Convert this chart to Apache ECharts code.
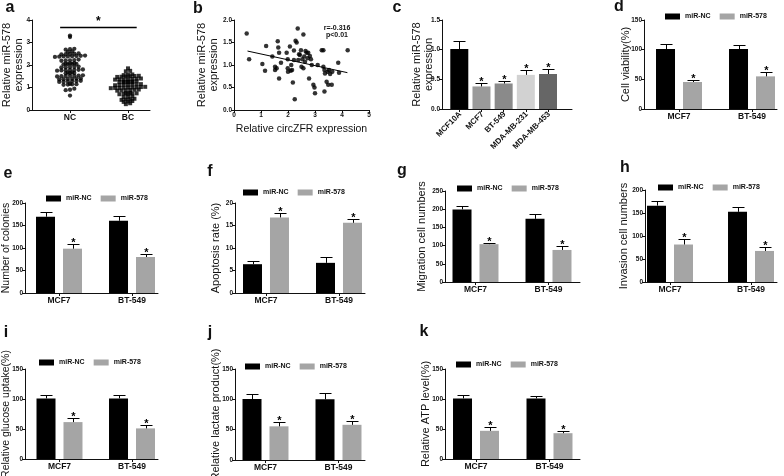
<!DOCTYPE html>
<html><head><meta charset="utf-8">
<script src="https://cdn.jsdelivr.net/npm/echarts@6/dist/echarts.min.js"></script>
<style>html,body{margin:0;padding:0;background:#fff}#c{width:784px;height:476px}</style>
</head><body><div id="c"></div>
<script>
// ================= DATA =================
// panel a: relative miR-578 expression, NC vs BC tissues
const tissueCats = ['NC', 'BC'];
const scatterNC = [3.31,3.24,2.72,2.70,2.68,2.60,2.58,2.50,2.48,2.47,2.52,2.49,
  2.40,2.38,2.41,2.37,2.39,2.36,2.42,2.38,2.22,2.20,2.24,2.21,2.19,
  2.06,2.04,2.08,2.05,2.03,2.07,2.05,1.90,1.92,1.89,1.91,1.93,
  1.78,1.76,1.79,1.77,1.75,1.80,1.78,1.64,1.66,1.63,1.65,1.67,
  1.52,1.50,1.53,1.51,1.49,1.54,1.52,1.38,1.40,1.37,1.39,1.36,1.41,
  1.28,1.26,1.29,1.27,1.30,1.25,1.15,1.13,1.16,1.14,1.12,0.95,0.90,0.88,0.64];
const scatterBC = [1.85,1.74,1.72,1.58,1.56,1.55,1.50,1.48,1.52,1.49,1.51,1.47,
  1.38,1.36,1.39,1.37,1.35,1.40,1.36,1.26,1.24,1.27,1.25,1.23,1.28,1.24,1.26,
  1.12,1.14,1.11,1.13,1.10,1.15,1.12,1.00,0.98,1.02,0.99,1.01,0.97,1.03,1.00,0.98,
  0.88,0.90,0.87,0.89,0.86,0.91,0.74,0.72,0.75,0.71,0.73,0.70,0.76,
  0.60,0.58,0.56,0.50,0.48,0.45,0.46,0.38,0.36,0.40,0.30,0.26];
// panel b: correlation circZFR vs miR-578
const corrX = [0.47,0.56,1.05,1.15,1.19,1.42,1.52,1.52,1.58,1.62,1.64,1.67,1.67,1.74,1.95,1.99,1.99,2.00,
  2.07,2.10,2.12,2.15,2.18,2.22,2.22,2.25,2.28,2.32,2.36,2.38,2.41,2.44,2.48,2.50,2.53,2.57,2.57,
  2.60,2.63,2.65,2.69,2.73,2.75,2.78,2.81,2.85,2.88,2.94,2.98,3.00,3.10,3.25,3.31,3.31,3.35,3.37,
  3.35,3.43,3.47,3.52,3.56,3.62,3.64,3.49,3.86,3.89,4.21];
const corrY = [1.70,1.13,1.02,0.87,1.42,1.19,0.96,0.89,0.93,1.53,1.39,1.27,0.70,1.05,1.27,1.13,0.93,0.85,
  1.41,0.87,1.00,0.89,0.61,1.32,1.11,0.24,1.54,1.50,1.81,1.11,1.24,1.22,1.33,0.96,1.13,1.68,0.93,
  1.19,1.07,1.31,1.27,1.15,1.27,0.70,1.20,1.13,1.00,0.56,0.50,0.37,1.00,1.33,1.33,0.96,0.89,0.81,
  0.41,0.63,0.85,0.89,0.80,0.56,0.85,0.56,1.05,0.83,1.33];
const fitLine = [[0.5, 1.31], [4.2, 0.83]];
const corrText = ['r=-0.316', 'p<0.01'];
// panel c: cell lines
const lineCats = ['MCF10A', 'MCF7', 'BT-549', 'MDA-MB-231', 'MDA-MB-453'];
const lineMean = [1.01, 0.38, 0.43, 0.575, 0.59];
const lineErr  = [0.13, 0.05, 0.04, 0.08, 0.08];
const lineSig  = [false, true, true, true, true];
// grouped bars d-k
const groups = ['MCF7', 'BT-549'];
const seriesNames = ['miR-NC', 'miR-578'];
const viabNC = [101, 101],   viabNCErr = [9, 7],     viab578 = [45.5, 55],  viab578Err = [4, 7.5];
const colNC  = [169.5, 160.5], colNCErr = [9.5, 10.5], col578 = [98.5, 80], col578Err = [10, 6];
const apoNC  = [6.4, 6.7],   apoNCErr = [0.8, 1.2],  apo578 = [16.8, 15.6], apo578Err = [1.0, 0.8];
const migNC  = [199.5, 173.5], migNCErr = [9, 14],   mig578 = [104, 88],   mig578Err = [4.5, 10];
const invNC  = [166, 152.5], invNCErr = [11, 11],    inv578 = [81.5, 67.5], inv578Err = [11, 9.5];
const gluNC  = [101, 101],   gluNCErr = [6.5, 6.5],  glu578 = [61.5, 51],  glu578Err = [7, 6];
const lacNC  = [100.5, 100], lacNCErr = [9, 11],     lac578 = [55.5, 58],  lac578Err = [7, 5.5];
const atpNC  = [101, 101],   atpNCErr = [5.5, 4.5],  atp578 = [47, 43],    atp578Err = [7, 3];

// ================= STYLE / LAYOUT =================
const FONT = '"Liberation Sans", Arial, Helvetica, sans-serif';
const INK = '#111';
const GRAY = '#a5a5a5';
const lineColors = ['#000000', '#9a9a9a', '#8a8a8a', '#d2d2d2', '#666666'];
const grids = [], xAxes = [], yAxes = [], series = [], legends = [], graphics = [];

function addGrid(l, r, t, b) {
  grids.push({left: l, top: t, width: r - l, height: b - t, containLabel: false, outerBoundsMode: 'none'});
  return grids.length - 1;
}
const axLine = {show: true, lineStyle: {color: INK, width: 1}};
const tickLbl = {fontSize: 6.5, fontWeight: 'bold', color: INK, fontFamily: FONT, margin: 2};
function yAxisCfg(g, max, interval, name, gap, fmt, nameSize) {
  return {gridIndex: g, type: 'value', min: 0, max: max, interval: interval,
    name: name, nameLocation: 'middle', nameRotate: 90, nameGap: gap, nameMoveOverlap: false,
    nameTextStyle: {fontSize: nameSize || 11, fontFamily: FONT, color: INK, lineHeight: 12},
    axisLine: axLine, axisTick: {show: true, length: 3, lineStyle: {color: INK}},
    axisLabel: Object.assign({}, tickLbl, fmt ? {formatter: fmt} : {}), splitLine: {show: false}};
}
function catXAxis(g, min, max, cats, lblOpts) {
  const vals = cats.map((c, i) => i + 1);
  return {gridIndex: g, type: 'value', min: min, max: max,
    axisLine: axLine, axisTick: {show: true, length: 3, customValues: vals, lineStyle: {color: INK}},
    axisLabel: Object.assign({customValues: vals, formatter: v => cats[Math.round(v) - 1] || '',
      fontSize: 8.5, fontWeight: 'bold', color: INK, fontFamily: FONT, margin: 3}, lblOpts || {}),
    splitLine: {show: false}};
}
function errSeries(g, means, errs, offset, stars) {
  return {type: 'custom', xAxisIndex: g, yAxisIndex: g, silent: true, z: 5,
    data: means.map((m, i) => [i + 1, m, errs[i], stars[i] ? 1 : 0]),
    renderItem(params, api) {
      const x = api.value(0), m = api.value(1), e = api.value(2);
      const p0 = api.coord([x, m]), p1 = api.coord([x, m + e]);
      const cx = Math.round(p0[0] + offset) + 0.5, ty = Math.round(p1[1]) + 0.5;
      const ch = [
        {type: 'line', shape: {x1: cx, y1: p0[1], x2: cx, y2: ty}, style: {stroke: '#000', lineWidth: 1}},
        {type: 'line', shape: {x1: cx - 6, y1: ty, x2: cx + 6, y2: ty}, style: {stroke: '#000', lineWidth: 1}}
      ];
      if (api.value(3)) ch.push({type: 'text', x: cx, y: ty + 4,
        style: {text: '*', font: 'bold 11px ' + FONT, align: 'center', verticalAlign: 'bottom', fill: '#000'}});
      return {type: 'group', children: ch};
    }};
}
function letter(t, x, y) {
  graphics.push({type: 'text', x: x, y: y, style: {text: t, font: 'bold 16px ' + FONT, fill: INK, align: 'center', verticalAlign: 'middle'}});
}

// ---------- panel a ----------
(function () {
  const L = 32, R = 150, T = 20, B = 110, c1 = 70, c2 = 128;
  const g = addGrid(L, R, T, B);
  const s = c2 - c1, xmin = 1 - (c1 - L) / s, xmax = 2 + (R - c2) / s;
  xAxes.push(catXAxis(g, xmin, xmax, tissueCats));
  yAxes.push(yAxisCfg(g, 4, 1, 'Relative miR-578\nexpression', 7));
  const step = 4.3 / s, rowH = 0.1;
  function swarm(vals, center) {
    const rows = {};
    vals.forEach(v => { const k = Math.round(v / rowH); (rows[k] = rows[k] || []).push(v); });
    const out = [];
    Object.keys(rows).forEach(k => { const r = rows[k].slice().sort((a, b) => a - b); const n = r.length;
      r.forEach((v, i) => out.push([center + (i - (n - 1) / 2) * step, v])); });
    return out;
  }
  series.push({type: 'scatter', xAxisIndex: g, yAxisIndex: g, symbol: 'circle', symbolSize: 4.3,
    itemStyle: {color: '#000'}, data: swarm(scatterNC, 1), silent: true,
    markLine: {silent: true, symbol: 'none', lineStyle: {color: '#000', width: 1.3, type: 'solid'},
      label: {show: true, position: 'middle', formatter: '*', fontSize: 12, fontWeight: 'bold', color: '#000', distance: -1, fontFamily: FONT},
      data: [[{coord: [0.83, 3.69]}, {coord: [2.15, 3.69]}]]}});
  series.push({type: 'scatter', xAxisIndex: g, yAxisIndex: g, symbol: 'rect', symbolSize: 4,
    itemStyle: {color: '#000'}, data: swarm(scatterBC, 2), silent: true});
})();

// ---------- panel b ----------
(function () {
  const g = addGrid(234, 369, 20, 110);
  xAxes.push({gridIndex: g, type: 'value', min: 0, max: 5, interval: 1,
    name: 'Relative circZFR expression', nameLocation: 'middle', nameGap: 14, nameMoveOverlap: false,
    nameTextStyle: {fontSize: 10.5, fontFamily: FONT, color: INK},
    axisLine: axLine, axisTick: {show: true, length: 3, lineStyle: {color: INK}}, axisLabel: tickLbl, splitLine: {show: false}});
  yAxes.push(yAxisCfg(g, 2, 0.5, 'Relative miR-578\nexpression', 14, v => v.toFixed(1)));
  series.push({type: 'scatter', xAxisIndex: g, yAxisIndex: g, symbolSize: 4.5, silent: true,
    itemStyle: {color: '#000'}, data: corrX.map((x, i) => [x, corrY[i]])});
  series.push({type: 'line', xAxisIndex: g, yAxisIndex: g, symbol: 'none', silent: true,
    lineStyle: {color: '#000', width: 1}, data: fitLine});
  graphics.push({type: 'text', x: 337, y: 28, style: {text: corrText[0], font: 'bold 7px ' + FONT, fill: INK, align: 'center', verticalAlign: 'middle'}});
  graphics.push({type: 'text', x: 337, y: 35.5, style: {text: corrText[1], font: 'bold 7px ' + FONT, fill: INK, align: 'center', verticalAlign: 'middle'}});
})();

// ---------- panel c ----------
(function () {
  const L = 442, R = 572, c1 = 459.3, c5 = 548;
  const g = addGrid(L, R, 20, 109);
  const s = (c5 - c1) / 4, xmin = 1 - (c1 - L) / s, xmax = 5 + (R - c5) / s;
  const ax = catXAxis(g, xmin, xmax, lineCats);
  ax.axisLabel.show = false;
  xAxes.push(ax);
  yAxes.push(yAxisCfg(g, 1.5, 0.5, 'Relative miR-578\nexpression', 7, v => v.toFixed(1)));
  series.push({type: 'bar', xAxisIndex: g, yAxisIndex: g, barWidth: 18, silent: true,
    data: lineMean.map((v, i) => ({value: [i + 1, v], itemStyle: {color: lineColors[i]}}))});
  series.push(errSeries(g, lineMean, lineErr, 0, lineSig));
  // rotated category labels, anchored on the axis ticks
  series.push({type: 'custom', xAxisIndex: g, yAxisIndex: g, silent: true, clip: false,
    data: lineCats.map((c, i) => [i + 1, 0]),
    renderItem(params, api) {
      const p = api.coord([api.value(0), 0]);
      return {type: 'text', x: p[0] + 1, y: p[1] + 4, rotation: Math.PI / 4,
        style: {text: lineCats[params.dataIndex], font: 'bold 8px ' + FONT, align: 'right', verticalAlign: 'middle', fill: INK}};
    }});
})();

// ---------- grouped bar panels ----------
function barPanel(p, nc, ncErr, mi, miErr, yMax, yInt, title) {
  const g = addGrid(p.l, p.r, p.t, p.b);
  const s = p.c2 - p.c1, xmin = 1 - (p.c1 - p.l) / s, xmax = 2 + (p.r - p.c2) / s;
  xAxes.push(catXAxis(g, xmin, xmax, groups));
  yAxes.push(yAxisCfg(g, yMax, yInt, title, p.gap, null, p.fs));
  series.push({type: 'bar', name: seriesNames[0], xAxisIndex: g, yAxisIndex: g, barWidth: 19, barGap: '42%', silent: true,
    itemStyle: {color: '#000'}, data: nc.map((v, i) => [i + 1, v])});
  series.push({type: 'bar', name: seriesNames[1], xAxisIndex: g, yAxisIndex: g, barWidth: 19, barGap: '42%', silent: true,
    itemStyle: {color: GRAY}, data: mi.map((v, i) => [i + 1, v])});
  series.push(errSeries(g, nc, ncErr, -13.5, nc.map(() => false)));
  series.push(errSeries(g, mi, miErr, 13.5, mi.map(() => true)));
  legends.push({data: seriesNames, left: p.lgx, top: p.lgy, padding: 0, itemWidth: 15, itemHeight: 6, itemGap: 9,
    icon: 'rect', selectedMode: false, textStyle: {fontSize: 7, fontWeight: 'bold', color: INK, fontFamily: FONT}});
}
barPanel({l: 644, r: 777, t: 20, b: 109, c1: 679, c2: 752, gap: 12, lgx: 665, lgy: 13},
  viabNC, viabNCErr, viab578, viab578Err, 150, 50, 'Cell viability(%)');
barPanel({l: 25, r: 158, t: 203, b: 293, c1: 59, c2: 132, gap: 13, fs: 10.5, lgx: 46, lgy: 195},
  colNC, colNCErr, col578, col578Err, 200, 50, 'Number of colonies');
barPanel({l: 235, r: 365, t: 203, b: 293, c1: 266, c2: 339, gap: 13, lgx: 243, lgy: 189},
  apoNC, apoNCErr, apo578, apo578Err, 20, 5, 'Apoptosis rate (%)');
barPanel({l: 445, r: 580, t: 191, b: 282, c1: 475.5, c2: 548.5, gap: 17, lgx: 457, lgy: 185},
  migNC, migNCErr, mig578, mig578Err, 250, 50, 'Migration cell numbers');
barPanel({l: 645, r: 777, t: 190, b: 282, c1: 670, c2: 751, gap: 15, lgx: 658, lgy: 184},
  invNC, invNCErr, inv578, inv578Err, 200, 50, 'Invasion cell numbers');
barPanel({l: 25, r: 158, t: 369, b: 459, c1: 59.5, c2: 132, gap: 13, fs: 10.5, lgx: 39, lgy: 359},
  gluNC, gluNCErr, glu578, glu578Err, 150, 50, 'Relative glucose uptake(%)');
barPanel({l: 235, r: 365, t: 369, b: 460, c1: 265.5, c2: 338.5, gap: 13, lgx: 245, lgy: 363},
  lacNC, lacNCErr, lac578, lac578Err, 150, 50, 'Relative lactate product(%)');
barPanel({l: 445, r: 580, t: 369, b: 459, c1: 476, c2: 549.5, gap: 13, lgx: 456, lgy: 361},
  atpNC, atpNCErr, atp578, atp578Err, 150, 50, 'Relative ATP level(%)');

// panel letters
letter('a', 10, 8); letter('b', 198, 9); letter('c', 397, 8); letter('d', 619, 7);
letter('e', 8, 174); letter('f', 210, 172); letter('g', 402, 171); letter('h', 625, 168);
letter('i', 6, 333); letter('j', 210, 333); letter('k', 424, 332);

const chart = echarts.init(document.getElementById('c'), null, {renderer: 'canvas'});
chart.setOption({animation: false, backgroundColor: '#fff', textStyle: {fontFamily: FONT},
  grid: grids, xAxis: xAxes, yAxis: yAxes, series: series, legend: legends, graphic: graphics, tooltip: {show: false}});
</script></body></html>
